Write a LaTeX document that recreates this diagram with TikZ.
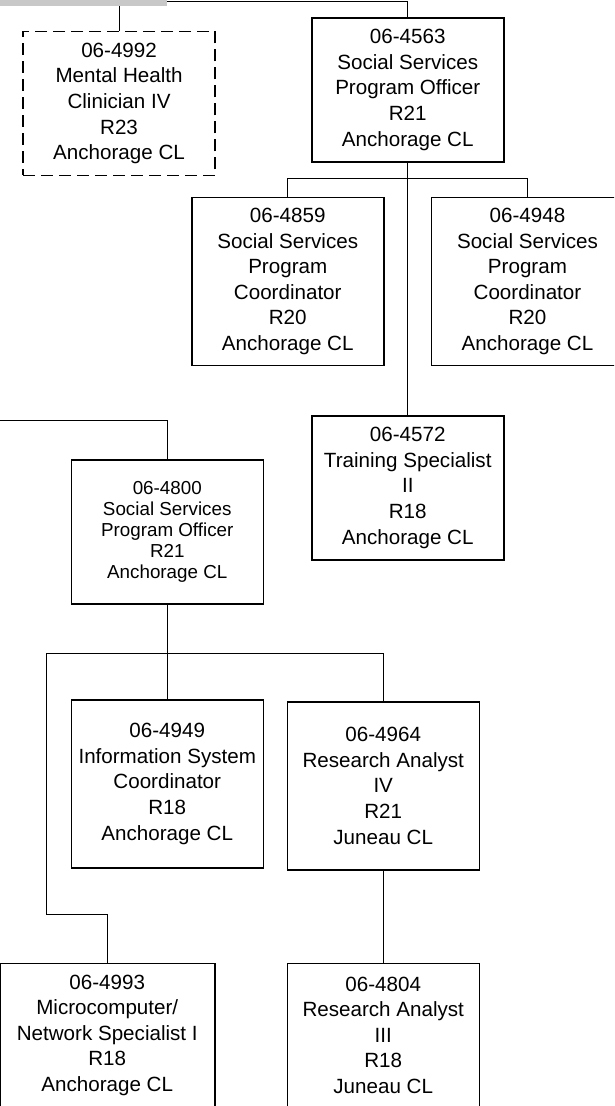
\documentclass[tikz,border=0pt]{standalone}
\usepackage{fontspec}
\setmainfont{Liberation Sans}
\usetikzlibrary{positioning}
\definecolor{barGray}{RGB}{200,200,200}

\begin{document}
\begin{tikzpicture}[x=1pt, y=-1pt,
  post/.style = {draw, line width=1.5pt, anchor=north west, inner sep=0pt,
    minimum width=192pt, minimum height=144pt, align=center,
    font=\fontsize{20.6}{25.6}\selectfont},
  tall/.style = {post, minimum height=168pt},
  vacant/.style = {post, dash pattern=on 12pt off 6pt},
  link/.style = {draw, line width=0.8pt}]
\useasboundingbox (0,0) rectangle (614,1106);
\clip (0,0) rectangle (614,1106);

\node[vacant] (p4992) at (22.3,30.7) {06-4992\\Mental Health\\Clinician IV\\R23\\Anchorage CL};
\node[post] (p4563) at (311,17) {06-4563\\Social Services\\Program Officer\\R21\\Anchorage CL};
\node[tall] (p4859) at (191,196.7) {06-4859\\Social Services\\Program\\Coordinator\\R20\\Anchorage CL};
\node[tall] (p4948) at (430.7,196.7) {06-4948\\Social Services\\Program\\Coordinator\\R20\\Anchorage CL};
\node[post] (p4572) at (311,415) {06-4572\\Training Specialist\\II\\R18\\Anchorage CL};
\node[post, font=\fontsize{18.8}{21}\selectfont] (p4800) at (70.5,459) {06-4800\\Social Services\\Program Officer\\R21\\Anchorage CL};
\node[tall] (p4949) at (70.5,699) {06-4949\\Information System\\Coordinator\\R18\\Anchorage CL};
\node[tall] (p4964) at (286.5,701) {06-4964\\Research Analyst\\IV\\R21\\Juneau CL};
\node[post, minimum width=215pt] (p4993) at (-1,962.5) {06-4993\\Microcomputer/\\Network Specialist I\\R18\\Anchorage CL};
\node[post] (p4804) at (286.5,962.5) {06-4804\\Research Analyst\\III\\R18\\Juneau CL};

\coordinate (topleft) at (0,1);
\coordinate (bus1) at (407,178.3);
\coordinate (offleft) at (0,420.5);
\coordinate (bus2) at (46.5,653.3);
\coordinate (jog) at (46.5,914.3);

\draw[link] (topleft) -| (p4563.north);
\draw[link] (p4992.north) |- (topleft);
\draw[link] (p4563.south) -- (p4572.north);
\draw[link] (p4859.north) |- (bus1) -| (p4948.north);
\draw[link] (offleft) -| (p4800.north);
\draw[link] (p4800.south) -- (p4949.north);
\draw[link] (p4964.north) |- (bus2) -- (jog) -| (p4993.north);
\draw[link] (p4964.south) -- (p4804.north);
\fill[barGray] (0,0) rectangle (167,6);
\end{tikzpicture}
\end{document}
